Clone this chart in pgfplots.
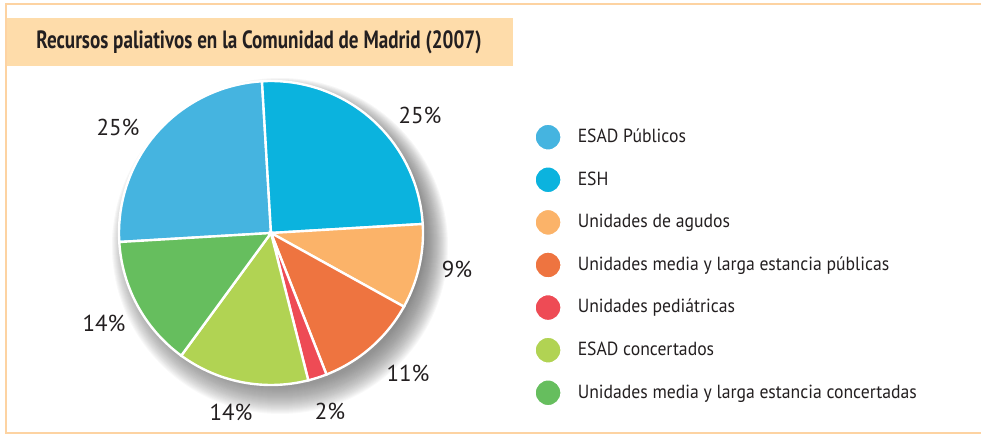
\documentclass[border=0pt]{standalone}
\usepackage{fontspec}
\setmainfont{PT Sans}
\newfontfamily\titlefont[FakeStretch=0.765]{PT Sans}
\newfontfamily\legfont[FakeStretch=0.93]{PT Sans}
\usepackage{pgfplots}
\pgfplotsset{compat=1.18}

\definecolor{cEsadP}{HTML}{45B4E0}
\definecolor{cEsh}{HTML}{0BB3DE}
\definecolor{cAgudos}{HTML}{FBB369}
\definecolor{cMediaP}{HTML}{EE7440}
\definecolor{cPed}{HTML}{EE4B55}
\definecolor{cEsadC}{HTML}{B1D353}
\definecolor{cMediaC}{HTML}{66BE5E}
\definecolor{frame}{HTML}{FDD3A2}
\definecolor{titlebg}{HTML}{FEDCAA}
\definecolor{txt}{HTML}{231F20}
\definecolor{shade}{HTML}{3C3C46}

% one slice: value (%), colour, legend text
\def\startang{183.4}
\newcommand{\slice}[3]{%
  \pgfmathsetmacro{\endang}{\startang - #1*3.6}%
  \edef\temp{\noexpand\addplot[fill=#2, draw=white, line width=1.2pt,
    domain=\endang:\startang, samples=40] ({cos(x)},{sin(x)}) -- (axis cs:0,0) -- cycle;}%
  \temp
  \addlegendentry{#3}%
  \global\let\startang\endang
}

\begin{document}
\begin{tikzpicture}[x=0.5pt,y=0.5pt]
\useasboundingbox (0,0) rectangle (981,-437);
\draw[frame, line width=1.4pt] (1000,-4) -- (6,-4) -- (6,-433) -- (1000,-433);
\fill[titlebg] (7,-18) rectangle (513,-66);
\node[font=\titlefont\bfseries\fontsize{12.5}{14}\selectfont, text=txt] at (259,-42)
  {Recursos paliativos en la Comunidad de Madrid (2007)};

% soft shadow, lower right of the pie
\foreach \i in {1,...,28}
  \fill[shade, opacity=0.022] (280,-246) circle (140+\i*1.0);

\begin{axis}[
  at={(135.5pt,-116.5pt)}, anchor=center,
  x=76pt, y=76pt, xmin=-1, xmax=1, ymin=-1, ymax=1,
  hide axis, clip=false,
  legend image code/.code={\fill[#1] (0.2cm,0cm) circle (6.75pt);},
  legend cell align=left,
  legend style={at={(1.342,0.878)}, anchor=north west, draw=none, fill=none,
    font=\legfont\fontsize{9.5}{11}\selectfont, text=txt, row sep=6.6pt,
    column sep=5.5pt, nodes={inner sep=2pt}},
]
\slice{25}{cEsadP}{ESAD Públicos}
\slice{25}{cEsh}{ESH}
\slice{9}{cAgudos}{Unidades de agudos}
\slice{11}{cMediaP}{Unidades media y larga estancia públicas}
\slice{2}{cPed}{Unidades pediátricas}
\slice{14}{cEsadC}{ESAD concertados}
\slice{14}{cMediaC}{Unidades media y larga estancia concertadas}

\begin{scope}[every node/.style={font=\fontsize{11.5}{13}\selectfont, text=txt}]
\node at (axis cs:-1.007,0.697) {25\%};
\node at (axis cs:0.980,0.776) {25\%};
\node at (axis cs:1.224,-0.243) {9\%};
\node at (axis cs:0.901,-0.921) {11\%};
\node at (axis cs:0.388,-1.171) {2\%};
\node at (axis cs:-0.263,-1.178) {14\%};
\node at (axis cs:-1.099,-0.592) {14\%};
\end{scope}
\end{axis}
\end{tikzpicture}
\end{document}
